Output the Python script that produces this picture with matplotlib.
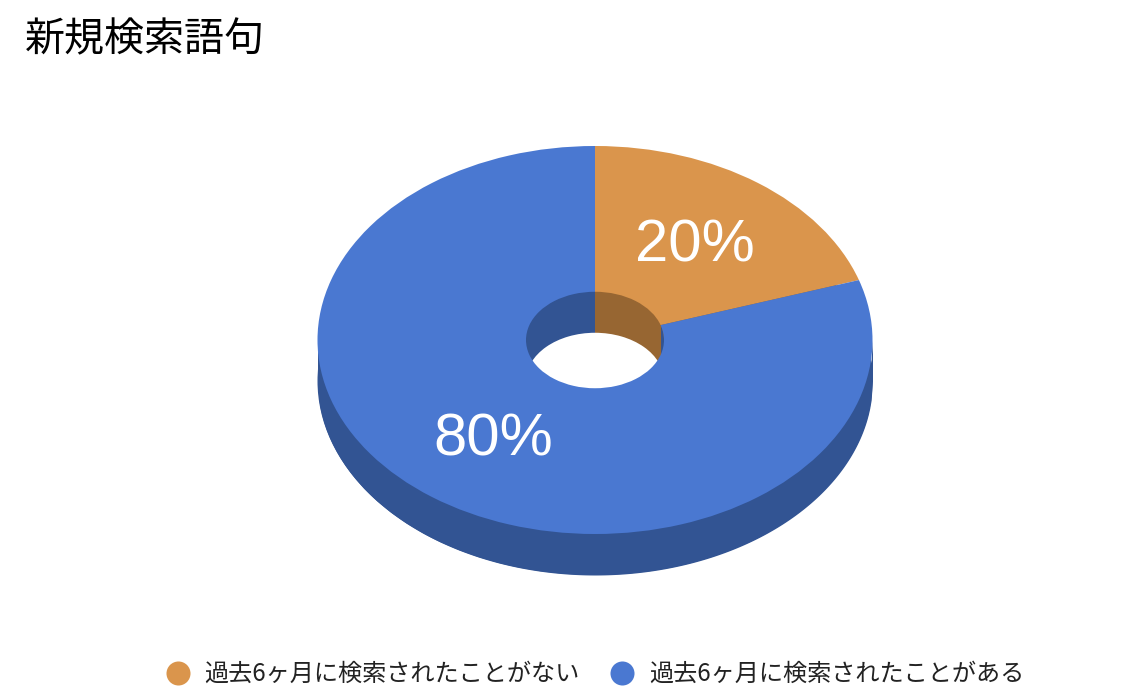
#!/usr/bin/env python3

import numpy as np
import matplotlib
matplotlib.use( 'Agg' )
import matplotlib.pyplot as plt
from matplotlib.lines import Line2D

plt.rcParams['font.family'] = ['Noto Sans CJK JP', 'DejaVu Sans']

#### ========== Data ==========

title  = '新規検索語句'
labels = [ '過去6ヶ月に検索されたことがない', '過去6ヶ月に検索されたことがある' ]
values = [ 20, 80 ]

colors     = [ '#DA954C', '#4A78D1' ]
darkColors = [ '#976632', '#325493' ]

#### ====== Geometry (pixels) ======

W, H   = 1140, 694
cx, cy = 595, 340
rx, ry = 277.5, 194
depth  = 41 / ry
holeR  = 69 / rx

fig = plt.figure( figsize = ( W / 100, H / 100 ), dpi = 100 )
ax  = fig.add_axes( [ 0, 0, 1, 1 ] )

pieArgs = dict( startangle = 90, counterclock = False )

# outer wall
ax.pie( values, colors = darkColors, center = ( 0, -depth ), **pieArgs )
x = np.linspace( -1, 1, 400 )
ax.fill_between( x, -np.sqrt( 1 - x**2 ), -np.sqrt( 1 - x**2 ) - depth,
                 color = darkColors[1], lw = 0 )

# inside of the hole: back edge of the hole swept down by the depth
endAngle = np.pi / 2 - 2 * np.pi * values[0] / sum( values )
xEnd     = holeR * np.cos( endAngle )
xh       = np.linspace( -holeR, holeR, 801 )
yh       = np.sqrt( np.maximum( holeR**2 - xh**2, 0 ) )
inFirst  = ( xh >= 0 ) & ( xh <= xEnd )
ax.fill_between( xh, yh, yh - depth, where = ~inFirst,
                 color = darkColors[1], lw = 0 )
ax.fill_between( xh, yh, yh - depth, where = inFirst,
                 color = darkColors[0], lw = 0 )
ax.pie( [ 1 ], colors = [ 'white' ], radius = holeR,
        center = ( 0, -depth ), **pieArgs )

# top face
wedges, _, pct \
  = ax.pie( values, colors = colors, autopct = '%d%%', pctdistance = 0.62,
            wedgeprops = dict( width = 1 - holeR ),
            textprops = dict( color = 'white', fontsize = 43,
                              family = 'Liberation Sans' ), **pieArgs )
for t in pct:
    t.set_position( ( t.get_position()[0] - 1 / rx,
                      t.get_position()[1] - 3 / ry ) )

ax.set_aspect( 'auto' )
ax.set_xlim( -cx / rx, ( W - cx ) / rx )
ax.set_ylim( -( H - cy ) / ry, cy / ry )

fig.text( 25 / W, 1 - 40 / H, title, fontsize = 28.8, color = 'black',
          ha = 'left', va = 'center' )

handles = [ Line2D( [], [], ls = 'none', marker = 'o', markersize = 17.3,
                    markeredgewidth = 0, color = c ) for c in colors ]
fig.legend( handles, labels, ncol = 2, loc = 'center',
            bbox_to_anchor = ( 595 / W, 1 - 674 / H ), frameon = False,
            fontsize = 17.4, labelcolor = '#222222', handlelength = 1.0,
            handletextpad = 0.6, columnspacing = 1.25 )

fig.savefig( 'out.png', dpi = 100 )
